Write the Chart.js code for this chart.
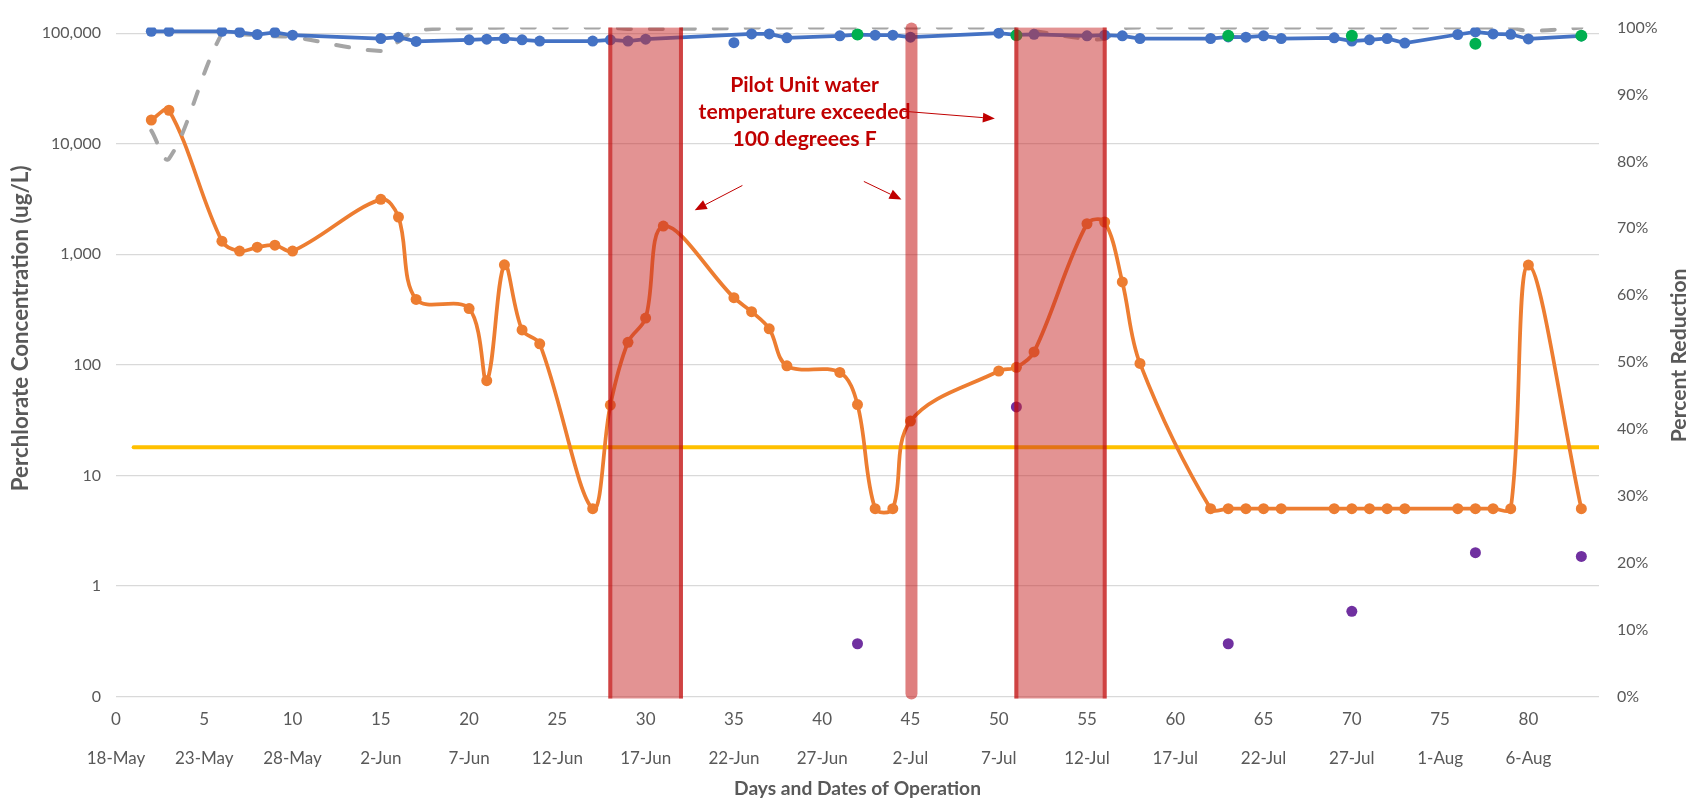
<!DOCTYPE html>
<html>
<head>
<meta charset="utf-8">
<script src="https://cdn.jsdelivr.net/npm/chart.js@4"></script>
<style>
  html, body { margin: 0; padding: 0; background: #ffffff; overflow: hidden; }
  #wrap { width: 1690px; height: 800px; position: relative; }
  canvas { display: block; }
</style>
</head>
<body>
<div id="wrap"><canvas id="c" width="1690" height="800"></canvas></div>
<script>
// ---------------- DATA ----------------
const dayTicks = [0,5,10,15,20,25,30,35,40,45,50,55,60,65,70,75,80];
const dateLabels = ['18-May','23-May','28-May','2-Jun','7-Jun','12-Jun','17-Jun','22-Jun','27-Jun','2-Jul','7-Jul','12-Jul','17-Jul','22-Jul','27-Jul','1-Aug','6-Aug'];
const concTicks = [0.1,1,10,100,1000,10000,100000];
const pctTicks = [0,10,20,30,40,50,60,70,80,90,100];

// Perchlorate concentration (ug/L) - orange
const orangeDays = [2,3,6,7,8,9,10,15,16,17,20,21,22,23,24,27,28,29,30,31,35,36,37,38,41,42,43,44,45,50,51,52,55,56,57,58,62,63,64,65,66,69,70,71,72,73,76,77,78,79,80,83];
const orangeVals = [16400,20100,1315,1070,1160,1210,1070,3140,2170,391,323,72,803,207,155,5,43.3,160,265,1800,405,303,212,98,85.5,43.7,5,5,31,88,95,131,1890,1960,562,103,5,5,5,5,5,5,5,5,5,5,5,5,5,5,800,5];

// Percent reduction - blue
const blueDays = [2,3,6,7,8,9,10,15,16,17,20,21,22,23,24,27,28,29,30,36,37,38,41,42,43,44,45,50,51,52,55,56,57,58,62,63,64,65,66,69,70,71,72,73,76,77,78,79,80,83];
const blueVals = [99.45,99.45,99.45,99.3,98.97,99.3,98.86,98.37,98.57,97.93,98.18,98.27,98.37,98.18,97.98,97.98,98.18,97.98,98.27,99.06,99.06,98.47,98.77,98.95,98.86,98.86,98.57,99.16,98.9,99.0,98.77,98.86,98.77,98.37,98.37,98.6,98.57,98.77,98.37,98.47,97.98,98.18,98.37,97.69,98.97,99.36,99.06,99.0,98.3,98.75];

// Separate blue point
const blueDotDays = [35];
const blueDotVals = [97.74];

// Percent reduction - grey dashed
const greyDays = [2,3,6,7,8,9,10,15,16,17,20,21,22,23,24,27,28,29,30,31,35,36,37,38,41,42,43,44,45,50,51,52,55,56,57,58,62,63,64,65,66,69,70,71,72,73,76,77,78,79,80,83];
const greyVals = [84.6,80.4,99.1,99.0,98.9,98.7,98.6,96.5,97.9,99.5,99.9,99.95,100,100,100,100,100,99.8,99.8,99.8,99.9,100,100,100,100,100,100,100,100,100,100,99.5,98.3,98.4,99.9,100,100,100,100,100,100,100,100,100,100,100,100,100,100,100,99.5,100];

// Green points (percent reduction)
const greenDays = [42,51,63,70,77,83];
const greenVals = [98.97,98.86,98.77,98.77,97.59,98.8];

// Purple points (concentration)
const purpleDays = [42,51,63,70,77,83];
const purpleVals = [0.3,41.6,0.3,0.59,2.0,1.85];

// Yellow reference level (concentration)
const limitDays = [1,84];
const limitVals = [18,18];

// Periods when pilot unit water temperature exceeded 100 F (days)
const bandStarts = [28,45,51];
const bandEnds = [32,45,56];

const annotationLines = ['Pilot Unit water','temperature exceeded','100 degreees F'];

// ---------------- CHART ----------------
const pts = (xs, ys) => xs.map((d, i) => ({x: d, y: ys[i]}));
const GREY_TXT = '#595959';
const FONT = 'Lato';

// font size so that text has the requested width
function fitFont(ctx, text, width, weight) {
  ctx.font = weight + ' 20px ' + FONT;
  const w = ctx.measureText(text).width;
  return weight + ' ' + (20 * width / w).toFixed(2) + 'px ' + FONT;
}

const decor = {
  id: 'decor',
  afterDatasetsDraw(chart) {
    const {ctx, chartArea} = chart;
    const x = chart.scales.x, yR = chart.scales.yR;
    const top = chartArea.top, bot = chartArea.bottom + 2;
    ctx.save();
    // temperature bands
    bandStarts.forEach((a, i) => {
      const b = bandEnds[i];
      const xa = x.getPixelForValue(a), xb = x.getPixelForValue(b);
      if (b > a) {
        ctx.fillStyle = 'rgba(200,40,40,0.5)';
        ctx.fillRect(xa - 2, top, xb - xa + 4, bot - top);
        ctx.strokeStyle = 'rgba(192,0,0,0.55)';
        ctx.lineWidth = 4;
        ctx.lineCap = 'butt';
        [xa, xb].forEach(px => { ctx.beginPath(); ctx.moveTo(px, top); ctx.lineTo(px, bot); ctx.stroke(); });
      } else {
        ctx.strokeStyle = 'rgba(192,0,0,0.5)';
        ctx.lineWidth = 12;
        ctx.lineCap = 'round';
        ctx.beginPath(); ctx.moveTo(xa + 1, top + 1); ctx.lineTo(xa + 1, bot - 5); ctx.stroke();
      }
    });
    // annotation text
    ctx.fillStyle = '#C00000';
    ctx.font = fitFont(ctx, annotationLines[1], 212, 'bold');
    ctx.textAlign = 'center';
    ctx.textBaseline = 'middle';
    const tx = x.getPixelForValue(39.0);
    const lineY = [91.4, 87.3, 83.3];
    annotationLines.forEach((t, i) => ctx.fillText(t, tx, yR.getPixelForValue(lineY[i])));
    // arrows
    const arrows = [[44.57, 87.5, 49.78, 86.4], [35.48, 76.4, 32.78, 72.7], [42.36, 77.0, 44.49, 74.3]];
    ctx.strokeStyle = '#C00000';
    ctx.lineWidth = 1;
    arrows.forEach(([d0, v0, d1, v1]) => {
      const x0 = x.getPixelForValue(d0), y0 = yR.getPixelForValue(v0);
      const x1 = x.getPixelForValue(d1), y1 = yR.getPixelForValue(v1);
      const ang = Math.atan2(y1 - y0, x1 - x0);
      const L = 12, W = 5;
      const bx = x1 - L * Math.cos(ang), by = y1 - L * Math.sin(ang);
      ctx.beginPath(); ctx.moveTo(x0, y0); ctx.lineTo(bx, by); ctx.stroke();
      ctx.beginPath();
      ctx.moveTo(x1, y1);
      ctx.lineTo(bx + W * Math.sin(ang), by - W * Math.cos(ang));
      ctx.lineTo(bx - W * Math.sin(ang), by + W * Math.cos(ang));
      ctx.closePath(); ctx.fillStyle = '#C00000'; ctx.fill();
    });
    ctx.restore();
  },
  afterDraw(chart) {
    const {ctx, chartArea} = chart;
    const yL = chart.scales.yL, yR = chart.scales.yR;
    ctx.save();
    ctx.fillStyle = GREY_TXT;
    ctx.textAlign = 'center';
    ctx.textBaseline = 'middle';
    // x title
    const xt = 'Days and Dates of Operation';
    ctx.font = fitFont(ctx, xt, 247, 'bold');
    ctx.fillText(xt, (chartArea.left + chartArea.right) / 2, 789);
    // left title
    const lt = 'Perchlorate Concentration (ug/L)';
    ctx.font = fitFont(ctx, lt, 326, 'bold');
    ctx.save(); ctx.translate(21, yL.getPixelForValue(214)); ctx.rotate(-Math.PI / 2);
    ctx.fillText(lt, 0, 0); ctx.restore();
    // right title
    const rt = 'Percent Reduction';
    ctx.font = fitFont(ctx, rt, 174, 'bold');
    ctx.save(); ctx.translate(1679, yR.getPixelForValue(51)); ctx.rotate(-Math.PI / 2);
    ctx.fillText(rt, 0, 0); ctx.restore();
    ctx.restore();
  }
};

new Chart(document.getElementById('c'), {
  type: 'line',
  data: {
    datasets: [
      { label: 'Green', data: pts(greenDays, greenVals), yAxisID: 'yR', showLine: false,
        pointRadius: 6, pointBackgroundColor: '#00B050', pointBorderColor: '#00B050', pointBorderWidth: 0 },
      { label: 'Purple', data: pts(purpleDays, purpleVals), yAxisID: 'yL', showLine: false,
        pointRadius: 5.5, pointBackgroundColor: '#7030A0', pointBorderColor: '#7030A0', pointBorderWidth: 0 },
      { label: 'BlueDot', data: pts(blueDotDays, blueDotVals), yAxisID: 'yR', showLine: false,
        pointRadius: 5.5, pointBackgroundColor: '#4472C4', pointBorderColor: '#4472C4', pointBorderWidth: 0 },
      { label: 'Blue', data: pts(blueDays, blueVals), yAxisID: 'yR', borderColor: '#4472C4', borderWidth: 3.75,
        tension: 0, pointRadius: 5.5, pointBackgroundColor: '#4472C4', pointBorderColor: '#4472C4', pointBorderWidth: 0 },
      { label: 'Grey', data: pts(greyDays, greyVals), yAxisID: 'yR', borderColor: '#A5A5A5', borderWidth: 4,
        borderDash: [13, 19], borderCapStyle: 'round', tension: 0.35, pointRadius: 0 },
      { label: 'Orange', data: pts(orangeDays, orangeVals), yAxisID: 'yL', borderColor: '#ED7D31', borderWidth: 3.75,
        tension: 0.35, pointRadius: 5.5, pointBackgroundColor: '#ED7D31', pointBorderColor: '#ED7D31', pointBorderWidth: 0 },
      { label: 'Limit', data: pts(limitDays, limitVals), yAxisID: 'yL', borderColor: '#FFC000', borderWidth: 4,
        borderCapStyle: 'round', pointRadius: 0, tension: 0 }
    ]
  },
  options: {
    responsive: false,
    animation: false,
    devicePixelRatio: 1,
    layout: { padding: { top: 17, left: 0, right: 0, bottom: 0 } },
    plugins: { legend: { display: false }, tooltip: { enabled: false } },
    scales: {
      x: {
        type: 'linear', min: 0, max: 84,
        grid: { display: false, drawTicks: false },
        border: { display: false },
        afterBuildTicks: s => { s.ticks = dayTicks.map(v => ({value: v})); },
        afterFit: s => { s.height = 103.5; },
        ticks: {
          padding: 4, color: GREY_TXT, maxRotation: 0, autoSkip: false,
          font: { family: FONT, size: 17, lineHeight: 2.294 },
          callback: (v, i) => [String(v), dateLabels[i]]
        }
      },
      yL: {
        type: 'logarithmic', position: 'left', min: 0.1, max: 112400,
        grid: { color: '#D9D9D9', lineWidth: 1.3, drawTicks: false },
        border: { display: false },
        afterBuildTicks: s => { s.ticks = concTicks.map(v => ({value: v})); },
        afterFit: s => { s.width = 116; },
        ticks: {
          padding: 15, color: GREY_TXT, font: { family: FONT, size: 16 },
          callback: v => Number(v).toLocaleString('en-US', {maximumFractionDigits: 0})
        }
      },
      yR: {
        type: 'linear', position: 'right', min: 0, max: 100,
        grid: { display: false, drawTicks: false },
        border: { display: false },
        afterBuildTicks: s => { s.ticks = pctTicks.map(v => ({value: v})); },
        afterFit: s => { s.width = 91; },
        ticks: {
          padding: 18, color: GREY_TXT, font: { family: FONT, size: 16 },
          callback: v => v + '%'
        }
      }
    }
  },
  plugins: [decor]
});
</script>
</body>
</html>
